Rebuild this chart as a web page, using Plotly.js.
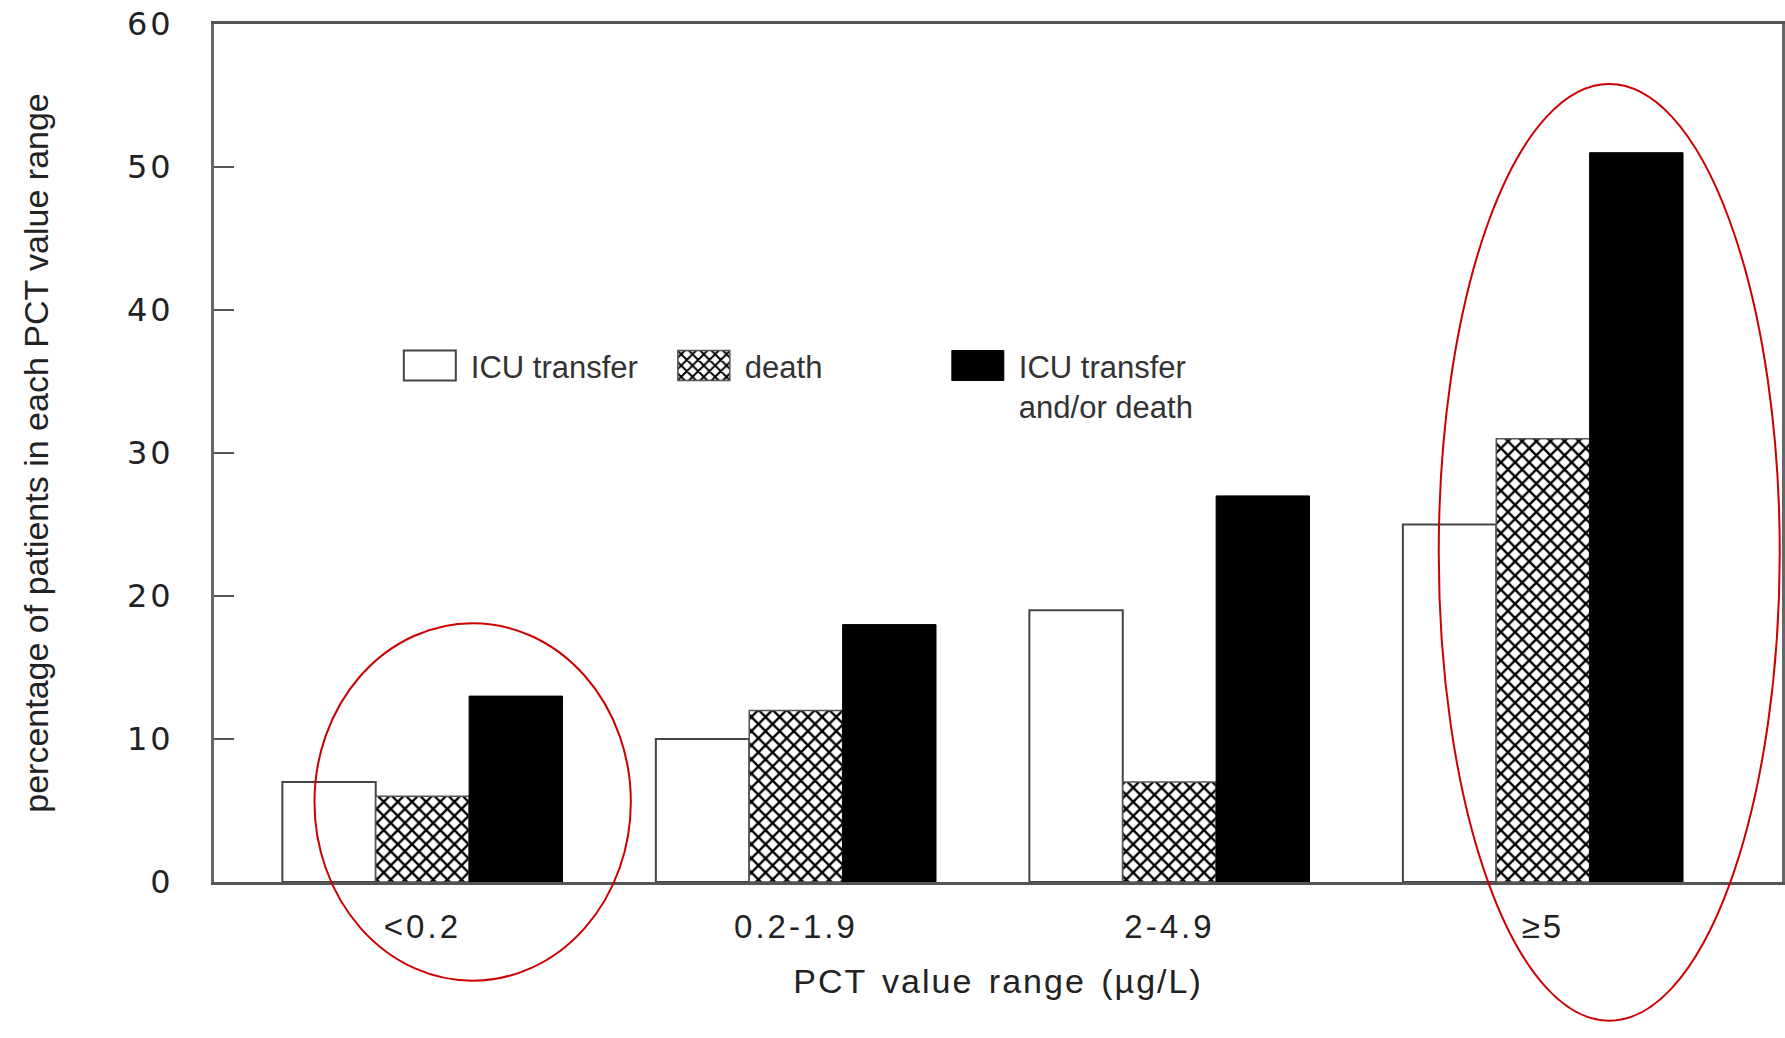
<!DOCTYPE html>
<html>
<head>
<meta charset="utf-8">
<script src="https://cdn.plot.ly/plotly-3.0.1.min.js"></script>
<style>
  html, body { margin: 0; padding: 0; background: #ffffff; }
  #chart { width: 1785px; height: 1038px; }
  .xtitle { letter-spacing: 2px; word-spacing: 4px; }
  .xtick text { letter-spacing: 3px; }
  .ytick text { letter-spacing: 3px; }
</style>
</head>
<body>
<div id="chart"></div>
<script>
// PCT value ranges (µg/L) on the x axis
const categories = ['<0.2', '0.2-1.9', '2-4.9', '≥5'];

// Percentage of patients in each PCT range
const icuTransfer = [7, 10, 19, 25];
const death = [6, 12, 7, 31];
const icuTransferOrDeath = [13, 18, 27, 51];

const seriesNames = ['ICU transfer', 'death', 'ICU transfer<br>and/or death'];

// Red rings around highlighted ranges, in axis units (category index / percent)
const Y_RANGE = [0, 60];
const rings = [
  { x: [-0.289, 0.558], y: [-6.9, 18.1] },
  { x: [2.721, 3.634], y: [-9.7, 55.8] }
];
const toDomain = v => (v - Y_RANGE[0]) / (Y_RANGE[1] - Y_RANGE[0]);

const traces = [
  {
    type: 'bar', name: seriesNames[0], x: categories, y: icuTransfer,
    marker: { color: '#ffffff', line: { color: '#444444', width: 2 } }
  },
  {
    type: 'bar', name: seriesNames[1], x: categories, y: death,
    marker: {
      color: '#ffffff', line: { color: '#555555', width: 1.5 },
      pattern: { shape: 'x', fgcolor: '#000000', bgcolor: '#ffffff', size: 10, solidity: 0.42 }
    }
  },
  {
    type: 'bar', name: seriesNames[2], x: categories, y: icuTransferOrDeath,
    marker: { color: '#000000', line: { color: '#000000', width: 1 } }
  }
];

const layout = {
  width: 1785, height: 1038,
  margin: { l: 213.5, r: 2.5, t: 24, b: 156, pad: 0 },
  paper_bgcolor: '#ffffff', plot_bgcolor: '#ffffff',
  barmode: 'group', bargap: 0.25, bargroupgap: 0,
  showlegend: true,
  xaxis: {
    type: 'category', range: [-0.558, 3.64], fixedrange: true,
    showgrid: false, zeroline: false,
    showline: true, linecolor: '#555555', linewidth: 3, mirror: true,
    ticks: '', ticklabelstandoff: 13,
    tickfont: { family: 'Liberation Sans, Arial, sans-serif', size: 33, color: '#222222' },
    title: {
      text: 'PCT value range (µg/L)', standoff: 26,
      font: { family: 'Liberation Sans, Arial, sans-serif', size: 34, color: '#222222' }
    }
  },
  yaxis: {
    range: Y_RANGE, tick0: 0, dtick: 10, fixedrange: true,
    showgrid: false, zeroline: false,
    showline: true, linecolor: '#666666', linewidth: 3, mirror: true,
    ticks: 'inside', ticklen: 20, tickwidth: 2, tickcolor: '#555555',
    ticklabelstandoff: 31,
    tickfont: { family: 'DejaVu Sans, sans-serif', size: 32, color: '#222222' },
    title: {
      text: 'percentage of patients in each PCT value range', standoff: 68,
      font: { family: 'Liberation Sans, Arial, sans-serif', size: 34, color: '#222222' }
    }
  },
  legend: {
    orientation: 'h', x: 0.1115, xanchor: 'left', y: 0.633, yanchor: 'top',
    entrywidth: 187, entrywidthmode: 'pixels', itemwidth: 72, valign: 'top',
    traceorder: 'normal', bgcolor: 'rgba(0,0,0,0)', borderwidth: 0,
    font: { family: 'Liberation Sans, Arial, sans-serif', size: 31, color: '#333333' },
    itemclick: false, itemdoubleclick: false
  },
  shapes: rings.map(r => ({
    type: 'circle', xref: 'x', yref: 'y domain',
    x0: r.x[0], x1: r.x[1], y0: toDomain(r.y[0]), y1: toDomain(r.y[1]),
    line: { color: '#cc0000', width: 2 }, fillcolor: 'rgba(0,0,0,0)', layer: 'above'
  }))
};

// Legend swatches drawn as wide boxes instead of the default small squares
function enlargeSwatches(gd) {
  gd.querySelectorAll('.legend .legendpoints path').forEach(p => {
    p.setAttribute('d', 'M26,15H-26V-15H26Z');
  });
}

Plotly.newPlot('chart', traces, layout, { displayModeBar: false, staticPlot: true }).then(gd => {
  enlargeSwatches(gd);
  gd.on('plotly_afterplot', () => enlargeSwatches(gd));
  setTimeout(() => enlargeSwatches(gd), 50);
});
</script>
</body>
</html>
